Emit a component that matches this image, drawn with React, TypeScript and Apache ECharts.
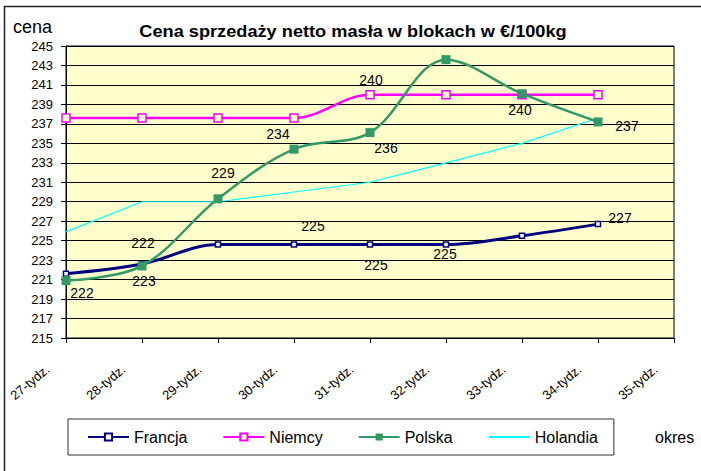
import React, { useEffect, useRef } from "react";
import * as echarts from "echarts";

const categories = ["27-tydz.", "28-tydz.", "29-tydz.", "30-tydz.", "31-tydz.", "32-tydz.", "33-tydz.", "34-tydz.", "35-tydz."];
const yMin = 215;
const yMax = 245;
const yInterval = 2;

const francja = [221.6, 222.6, 224.6, 224.6, 224.6, 224.6, 225.5, 226.7];
const niemcy = [237.6, 237.6, 237.6, 237.6, 240.0, 240.0, 240.0, 240.0];
const polska = [220.9, 222.4, 229.3, 234.4, 236.1, 243.6, 240.1, 237.2];
const holandia = [225.9, 229.0, 229.0, 230.0, 231.0, 233.0, 235.0, 237.6];

const seriesNames = ["Francja", "Niemcy", "Polska", "Holandia"];
const titleText = "Cena sprzedaży netto masła w blokach w €/100kg";
const yAxisName = "cena";
const xAxisName = "okres";

// label placement (styling): offset of each data label from its point, null = no label
const francjaLabelOffsets: (number[] | null)[] = [[16, 19], [2, 17], null, [19, -19], [6, 20], [-1, 9], null, [22, -6]];
const niemcyLabelOffsets: (number[] | null)[] = [null, null, null, null, [1, -15], null, null, null];
const polskaLabelOffsets: (number[] | null)[] = [null, [1, -23], [5, -26], [-16, -15], [16, 15], null, [-2, 16], [29, 4]];

const FONT = '"Liberation Sans", Arial, sans-serif';

function withLabels(values: number[], offsets: (number[] | null)[]) {
  return values.map((v, i) => {
    const off = offsets[i];
    if (!off) return { value: v };
    return {
      value: v,
      label: {
        show: true,
        position: "inside",
        offset: off,
        formatter: (p: any) => String(Math.round(p.value)),
        color: "#000",
        fontSize: 14,
        fontFamily: FONT,
      },
    };
  });
}

export default function App() {
  const ref = useRef<HTMLDivElement>(null);
  useEffect(() => {
    document.body.style.margin = "0";
    const chart = echarts.init(ref.current!, null, { renderer: "svg" });
    chart.setOption({
      animation: false,
      backgroundColor: "#ffffff",
      grid: {
        left: 66,
        top: 46,
        width: 608,
        height: 292,
        show: true,
        backgroundColor: "#FFFFCC",
        borderColor: "#000",
        borderWidth: 1,
      },
      legend: {
        data: [
          { name: seriesNames[0] },
          { name: seriesNames[1] },
          { name: seriesNames[2] },
          { name: seriesNames[3], itemStyle: { opacity: 0 } },
        ],
        left: 68,
        top: 419,
        orient: "horizontal",
        itemWidth: 41,
        itemHeight: 9,
        itemGap: 35,
        padding: [10, 16, 10, 19],
        borderColor: "#333",
        borderWidth: 1,
        textStyle: { color: "#000", fontSize: 16, fontFamily: FONT },
      },
      xAxis: {
        type: "category",
        data: categories,
        boundaryGap: false,
        axisLine: { lineStyle: { color: "#000", width: 1 } },
        axisTick: { show: true, length: 5, lineStyle: { color: "#000" } },
        axisLabel: {
          rotate: 40,
          margin: 14,
          padding: [0, 24, 0, 0],
          color: "#000",
          fontSize: 13,
          fontFamily: FONT,
          interval: 0,
        },
        splitLine: { show: false },
      },
      yAxis: {
        type: "value",
        min: yMin,
        max: yMax,
        interval: yInterval,
        axisLine: { show: true, lineStyle: { color: "#000", width: 1 } },
        axisTick: { show: true, length: 5, lineStyle: { color: "#000" } },
        axisLabel: { color: "#000", fontSize: 13, fontFamily: FONT, margin: 13 },
        splitLine: { show: true, lineStyle: { color: "#000", width: 1 } },
      },
      series: [
        {
          name: "Francja",
          type: "line",
          data: withLabels(francja, francjaLabelOffsets),
          smooth: 0.35,
          symbol: "rect",
          symbolSize: 5,
          lineStyle: { color: "#000080", width: 3 },
          itemStyle: { color: "#ffffff", borderColor: "#000080", borderWidth: 1.5 },
          z: 4,
        },
        {
          name: "Niemcy",
          type: "line",
          data: withLabels(niemcy, niemcyLabelOffsets),
          smooth: 0.35,
          symbol: "rect",
          symbolSize: 8,
          lineStyle: { color: "#FF00FF", width: 2.5 },
          itemStyle: { color: "#FFFFCC", borderColor: "#FF00FF", borderWidth: 1.5 },
          z: 3,
        },
        {
          name: "Polska",
          type: "line",
          data: withLabels(polska, polskaLabelOffsets),
          smooth: 0.35,
          symbol: "rect",
          symbolSize: 9,
          lineStyle: { color: "#339966", width: 2.5 },
          itemStyle: { color: "#339966", borderColor: "#339966", borderWidth: 0 },
          z: 5,
        },
        {
          name: "Holandia",
          type: "line",
          data: holandia,
          smooth: false,
          symbol: "none",
          lineStyle: { color: "#00FFFF", width: 1.2 },
          itemStyle: { color: "#00FFFF" },
          z: 2,
        },
      ],
      graphic: [
        {
          type: "rect",
          shape: { x: 4.5, y: 6.5, width: 760, height: 520 },
          style: { fill: "none", stroke: "#222", lineWidth: 1.5 },
          silent: true,
          z: 100,
        },
        {
          type: "text",
          x: 353,
          y: 31,
          scaleX: 1.07,
          style: {
            text: titleText,
            fontSize: 17,
            fontWeight: "bold",
            fontFamily: FONT,
            fill: "#000",
            align: "center",
            verticalAlign: "middle",
            textAlign: "center",
            textVerticalAlign: "middle",
          },
        },
        {
          type: "text",
          x: 13,
          y: 27,
          style: {
            text: yAxisName,
            fontSize: 18,
            fontFamily: FONT,
            fill: "#000",
            align: "left",
            verticalAlign: "middle",
            textAlign: "left",
            textVerticalAlign: "middle",
          },
        },
        {
          type: "text",
          x: 655,
          y: 437,
          style: {
            text: xAxisName,
            fontSize: 16,
            fontFamily: FONT,
            fill: "#000",
            align: "left",
            verticalAlign: "middle",
            textAlign: "left",
            textVerticalAlign: "middle",
          },
        },
      ],
    });
    return () => chart.dispose();
  }, []);
  return <div ref={ref} style={{ width: 701, height: 471 }} />;
}
